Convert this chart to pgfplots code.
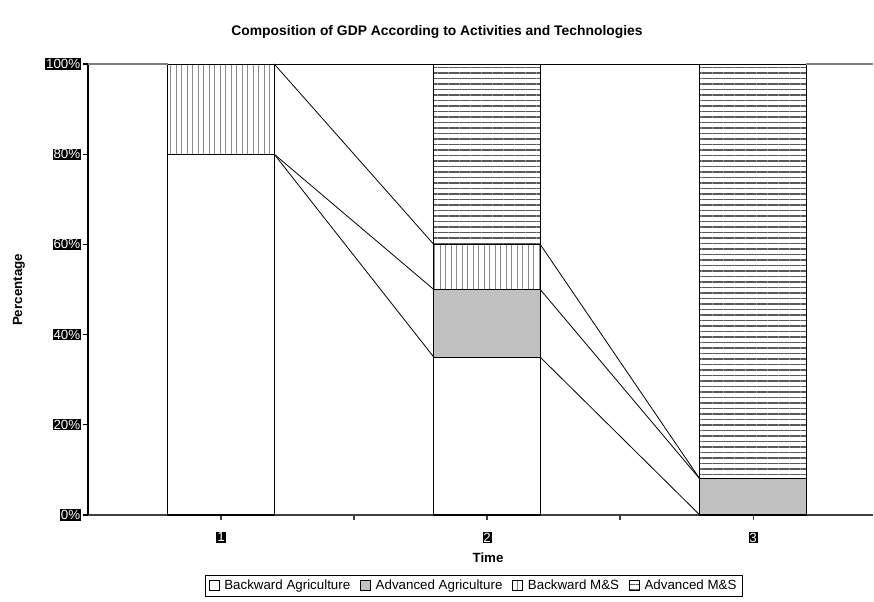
\documentclass[border=0pt]{standalone}
\usepackage{fontspec}
\setmainfont{Liberation Sans}
\usepackage{pgfplots}
\pgfplotsset{compat=1.18}
\usepackage{pgfplotstable}
\usetikzlibrary{patterns.meta}

\pgfplotstableread{
x BA AA BMS AMS
1 80 0 20 0
2 35 15 10 40
3 0 8 0 92
}\gdp

\definecolor{aagray}{HTML}{C0C0C0}
\definecolor{vhatch}{HTML}{8C8C8C}
\definecolor{hhatch}{HTML}{5A5A5A}

\pgfplotsset{common/.style={
  scale only axis, width=588.75pt, height=338.25pt,
  xmin=0.5, xmax=3.451, ymin=0, ymax=100,
  at={(0,0)}, anchor=south west,
}}

\begin{document}
\begin{tikzpicture}
\useasboundingbox (-66pt,-64.5pt) rectangle (589.5pt,386.25pt);
\begin{axis}[common,
  ybar stacked, bar width=0.4,
  axis x line*=bottom, axis y line*=left,
  x axis line style={draw=black!75, line width=0.8pt, -},
  y axis line style={draw=black, line width=0.8pt, -},
  tick align=outside,
  xtick={1.5,2.5}, xticklabels={,,},
  x tick style={draw=black!75, line width=0.8pt},
  extra x ticks={1,2,3}, extra x tick labels={1,2,3},
  extra x tick style={tick style={draw=none},
    xticklabel style={fill=black, text=white, inner sep=0.6pt, yshift=-9pt, font=\fontsize{10}{12}\selectfont}},
  ytick={0,20,40,60,80,100},
  yticklabels={0\%,20\%,40\%,60\%,80\%,100\%},
  y tick style={draw=black, line width=0.8pt}, major tick length=3.5pt,
  yticklabel style={fill=black, text=white, inner sep=0.6pt, xshift=-1.5pt, font=\fontsize{10}{12}\selectfont},
  title={Composition of GDP According to Activities and Technologies},
  every axis title/.style={at={(axis description cs:0.4446,1.071)}, anchor=center, font=\bfseries\fontsize{10.4}{12}\selectfont},
  xlabel={Time},
  every axis x label/.style={at={(axis description cs:0.5096,-0.0953)}, anchor=center, font=\bfseries\fontsize{10}{12}\selectfont},
  ylabel={Percentage},
  every axis y label/.style={at={(axis description cs:-0.0880,0.499)}, anchor=center, rotate=90, font=\bfseries\fontsize{10}{12}\selectfont},
  legend columns=4,
  legend style={at={(axis description cs:0.4917,-0.1574)}, anchor=center, draw=black, line width=0.6pt,
    inner xsep=2.5pt, inner ysep=1.8pt, font=\fontsize{10}{12}\selectfont,
    /tikz/every odd column/.append style={column sep=1.5pt},
    /tikz/every even column/.append style={column sep=5.5pt}},
  legend image code/.code={\draw[#1, line width=0.6pt] (0pt,-3.25pt) rectangle (7.5pt,4.25pt);},
]
\addplot[draw=black, line width=0.8pt, fill=white] table[x=x, y=BA] {\gdp};
\addplot[draw=black, line width=0.8pt, fill=aagray] table[x=x, y=AA] {\gdp};
\addplot[draw=black, line width=0.8pt, pattern={Lines[angle=90, distance=4.125pt, line width=0.75pt]}, pattern color=vhatch] table[x=x, y=BMS] {\gdp};
\addplot[draw=black, line width=0.8pt, pattern={Lines[angle=0, distance=4.125pt, line width=0.85pt]}, pattern color=hhatch] table[x=x, y=AMS] {\gdp};
\legend{Backward Agriculture, Advanced Agriculture, Backward M\&S, Advanced M\&S}
\end{axis}
\begin{axis}[common, hide axis, clip=false]
\addplot[black!50, line width=1.2pt, forget plot] coordinates {(0.5,100) (0.8,100)};
\addplot[black!50, line width=1.2pt, forget plot] coordinates {(3.2,100) (3.451,100)};
\addplot[black, line width=0.6pt] coordinates {(1.2,100) (1.8,100)};
\addplot[black, line width=0.6pt] coordinates {(2.2,100) (2.8,100)};
\addplot[black, line width=0.6pt] coordinates {(1.2,80) (1.8,35)};
\addplot[black, line width=0.6pt] coordinates {(1.2,80) (1.8,50)};
\addplot[black, line width=0.6pt] coordinates {(1.2,100) (1.8,60)};
\addplot[black, line width=0.6pt] coordinates {(2.2,35) (2.8,0)};
\addplot[black, line width=0.6pt] coordinates {(2.2,50) (2.8,8)};
\addplot[black, line width=0.6pt] coordinates {(2.2,60) (2.8,8)};
\end{axis}
\end{tikzpicture}
\end{document}
